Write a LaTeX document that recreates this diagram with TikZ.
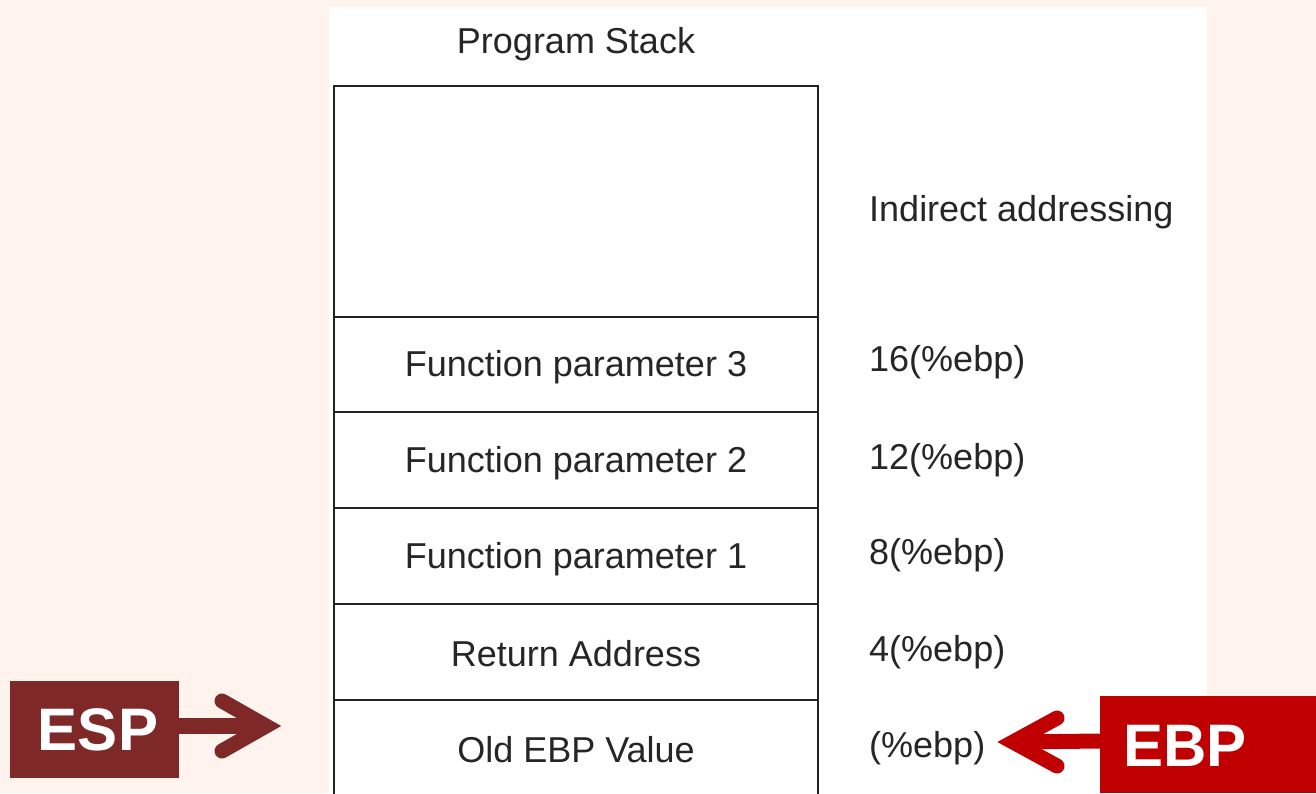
\documentclass[tikz,border=0pt]{standalone}
\usepackage{fontspec}
\setmainfont{Liberation Sans}
\definecolor{peach}{HTML}{FEF3ED}
\definecolor{espred}{HTML}{7F2828}
\definecolor{ebpred}{HTML}{C00000}
\definecolor{linegray}{HTML}{222222}
\begin{document}
\begin{tikzpicture}[x=1pt,y=-1pt,
  txt/.style={inner sep=0pt, font=\fontsize{36}{40}\selectfont, text=black!85},
  lbl/.style={txt, anchor=west},
  tag/.style={inner sep=0pt, font=\fontsize{60}{66}\selectfont\bfseries, text=white},
  chev/.style={line width=15pt, line cap=round, line join=miter},
  stackline/.style={draw=linegray, line width=1.8pt}]
\useasboundingbox (0,0) rectangle (1316,793);
\fill[peach] (0,0) rectangle (1316,793);
\fill[white] (329,7) rectangle (1207,793);

% stack
\draw[stackline] (334,800) -- (334,86) -- (818,86) -- (818,800);
\foreach \yy in {317,412,508,604,700} \draw[stackline] (334,\yy) -- (818,\yy);

\node[txt] (title) at (576,44) {Program Stack};
\node[txt] (p3) at (576,367) {Function parameter 3};
\node[txt] (p2) at (576,463) {Function parameter 2};
\node[txt] (p1) at (576,559) {Function parameter 1};
\node[txt] (ret) at (576,654) {Return Address};
\node[txt] (old) at (576,750) {Old EBP Value};

\node[lbl] (ind) at (869,212) {Indirect addressing};
\node[lbl] (o16) at (869,362) {16(\%ebp)};
\node[lbl] (o12) at (869,460) {12(\%ebp)};
\node[lbl] (o8) at (869,555) {8(\%ebp)};
\node[lbl] (o4) at (869,652) {4(\%ebp)};
\node[lbl] (o0) at (869,748) {(\%ebp)};

% ESP
\fill[espred] (10,681) rectangle (179,778);
\node[tag] (esp) at (98,730) {ESP};
\coordinate (espR) at (179,726);
\coordinate (espTip) at (266,726);
\draw[espred, line width=16pt] (espR) -- (espTip);
\draw[espred, chev] (222,701) -- (espTip) -- (222,751);

% EBP
\fill[ebpred] (1100,696) rectangle (1316,793);
\node[tag] (ebp) at (1185,746) {EBP};
\coordinate (ebpL) at (1100,741);
\coordinate (ebpTip) at (1013,742);
\draw[ebpred, line width=15pt] (ebpL) -- (ebpTip);
\draw[ebpred, chev] (1057,718) -- (ebpTip) -- (1057,766);
\end{tikzpicture}
\end{document}
